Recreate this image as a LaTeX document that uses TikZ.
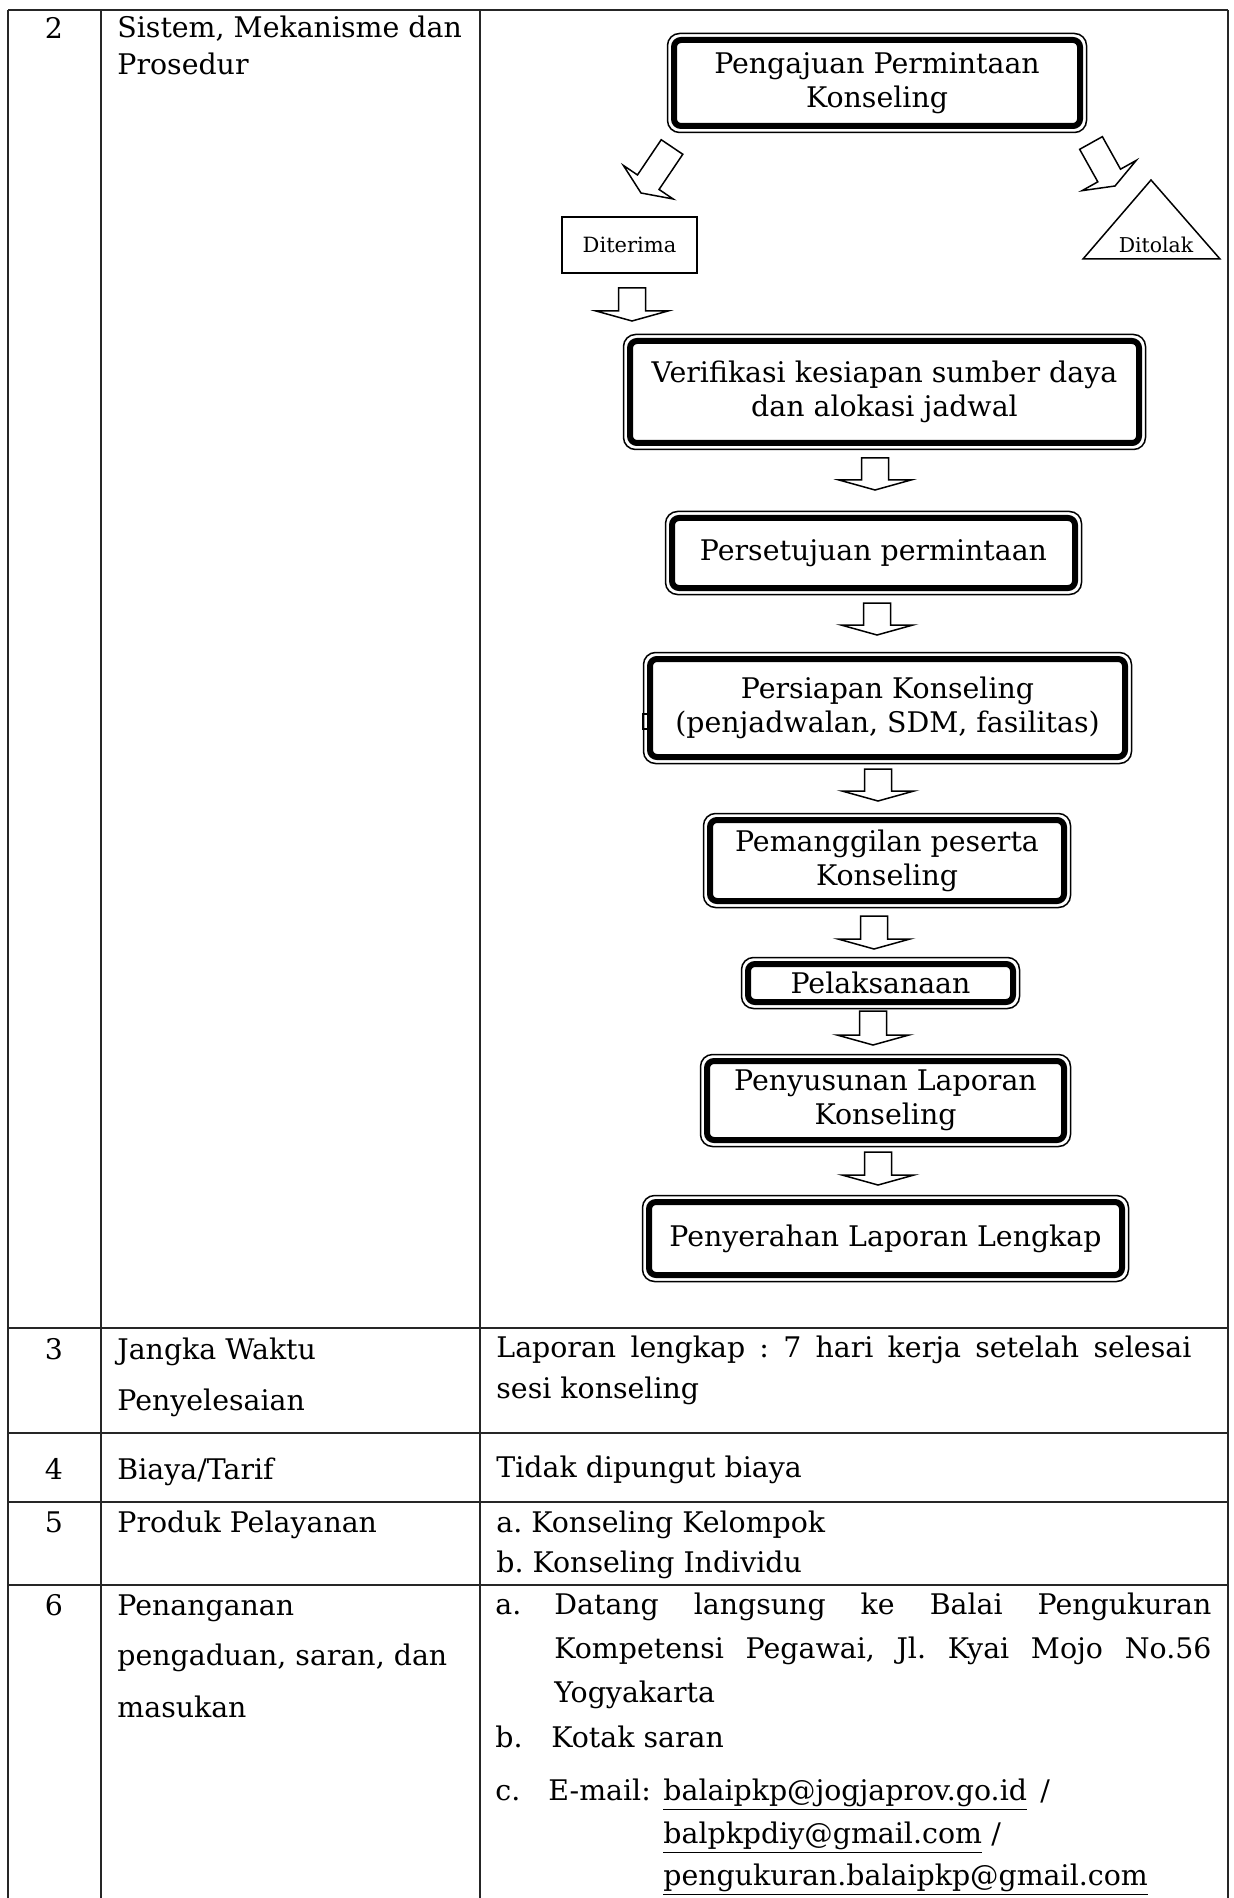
\documentclass[tikz,border=0pt]{standalone}
\usepackage{fontspec}
\setmainfont{DejaVu Serif}
\usetikzlibrary{calc}
\newcommand\fbx[5]{%
  \node[fbox, minimum width=#3pt, minimum height=#4pt] (#1) at (#2) {#5};
  \draw[fout] ([shift={(-3.25pt,3.25pt)}]#1.north west) rectangle ([shift={(3.25pt,-3.25pt)}]#1.south east);}
\newcommand\blockarr[6]{% prefix, tail, tip, half shaft, half head, head length
  \coordinate (#1b) at ($(#3)!#6!(#2)$);
  \draw[arrline] ($(#2)!#4!90:(#3)$) -- ($(#1b)!#4!90:(#3)$) -- ($(#1b)!#5!90:(#3)$) -- (#3)
    -- ($(#1b)!#5!-90:(#3)$) -- ($(#1b)!#4!-90:(#3)$) -- ($(#2)!#4!-90:(#3)$) -- cycle;}
\begin{document}
\frenchspacing
\begin{tikzpicture}[x=0.5pt,y=-0.5pt,
  tline/.style={line width=0.8pt, draw=black!85},
  fbox/.style={draw, line width=3pt, rounded corners=3.5pt, outer sep=0pt, inner sep=0pt, align=center, font=\fontsize{14.2}{17}\selectfont},
  fout/.style={draw, line width=0.75pt, rounded corners=6pt},
  arrline/.style={draw, line width=0.75pt, fill=white, line join=miter},
  tx/.style={anchor=base west, inner sep=0pt, font=\fontsize{14.2}{17}\selectfont},
  num/.style={anchor=base, inner sep=0pt, font=\fontsize{14.2}{17}\selectfont}]
\useasboundingbox[fill=white] (0,0) rectangle (1233,1898);
% table
\draw[tline] (8,10) -- (1228,10);
\draw[tline] (8,10) -- (8,1898);
\draw[tline] (101,10) -- (101,1898);
\draw[tline] (480,10) -- (480,1898);
\draw[tline] (1228,10) -- (1228,1898);
\foreach \yy in {1328,1433,1502,1585} \draw[tline] (8,\yy) -- (1228,\yy);
% row 2
\node[num] (n2) at (54,39) {2};
\node[tx] (l2a) at (117,38) {Sistem, Mekanisme dan};
\node[tx] (l2b) at (117,75) {Prosedur};
% flowchart
\fbx{A}{877,83}{203}{43}{Pengajuan Permintaan\\Konseling}
\fbx{B}{884.5,392}{254.5}{51}{Verifikasi kesiapan sumber daya\\dan alokasi jadwal}
\fbx{C}{873.5,553}{201.5}{35}{Persetujuan permintaan}
\fbx{D}{887.5,708}{237.5}{49}{Persiapan Konseling\\(penjadwalan, SDM, fasilitas)}
\fbx{E}{887,860.5}{177}{40.5}{Pemanggilan peserta\\Konseling}
\fbx{F}{880.5,983}{132.5}{19}{Pelaksanaan}
\fbx{G}{885.5,1100.5}{178.5}{39.5}{Penyusunan Laporan\\Konseling}
\fbx{H}{885.5,1238.5}{236.5}{36.5}{Penyerahan Laporan Lengkap}
\draw[line width=0.7pt] (647,714) -- (643,714) -- (643,729) -- (647,729);
\node[draw, line width=0.75pt, minimum width=67.5pt, minimum height=28pt, inner sep=0pt, font=\fontsize{10.5}{12}\selectfont] (dit) at (629.5,245) {Diterima};
\coordinate (ta) at (1151,180);
\coordinate (tl) at (1083,259);
\coordinate (tr) at (1220,259);
\draw[line width=0.75pt] (ta) -- (tl) -- (tr) -- cycle;
\node[font=\fontsize{10.2}{12}\selectfont, anchor=base, inner sep=0pt] (tol) at (1156,253) {Ditolak};
% arrows
\coordinate (dl1) at (672,147); \coordinate (dl2) at (641,193);
\blockarr{dl}{dl1}{dl2}{6.5pt}{15pt}{6.5pt}
\coordinate (dr1) at (1091,143); \coordinate (dr2) at (1115,186);
\blockarr{dr}{dr1}{dr2}{6.5pt}{15.5pt}{6pt}
\coordinate (v0t) at (632,288); \coordinate (v0p) at (632,321);
\blockarr{v0}{v0t}{v0p}{6.75pt}{18pt}{5pt}
\coordinate (v1t) at (875,458); \coordinate (v1p) at (875,490);
\blockarr{v1}{v1t}{v1p}{6.75pt}{18pt}{5pt}
\coordinate (v2t) at (877,603); \coordinate (v2p) at (877,635);
\blockarr{v2}{v2t}{v2p}{6.75pt}{18pt}{5pt}
\coordinate (v3t) at (878,769); \coordinate (v3p) at (878,801);
\blockarr{v3}{v3t}{v3p}{6.75pt}{18pt}{5pt}
\coordinate (v4t) at (874,916); \coordinate (v4p) at (874,949);
\blockarr{v4}{v4t}{v4p}{6.75pt}{18pt}{5pt}
\coordinate (v5t) at (873,1011); \coordinate (v5p) at (873,1045);
\blockarr{v5}{v5t}{v5p}{6.75pt}{18pt}{5pt}
\coordinate (v6t) at (878,1152); \coordinate (v6p) at (878,1185);
\blockarr{v6}{v6t}{v6p}{6.75pt}{18pt}{5pt}
% rows 3-6
\node[num] (n3) at (54,1359) {3};
\node[tx] (l3a) at (117,1359) {Jangka Waktu};
\node[tx] (l3b) at (117,1410) {Penyelesaian};
\node[tx] (r3a) at (496,1357) {\makebox[347.5pt][s]{Laporan lengkap : 7 hari kerja setelah selesai}};
\node[tx] (r3b) at (496,1398) {sesi konseling};
\node[num] (n4) at (54,1479) {4};
\node[tx] (l4) at (117,1479) {Biaya/Tarif};
\node[tx] (r4) at (496,1477) {Tidak dipungut biaya};
\node[num] (n5) at (54,1532) {5};
\node[tx] (l5) at (117,1532) {Produk Pelayanan};
\node[tx] (r5a) at (496,1532) {a. Konseling Kelompok};
\node[tx] (r5b) at (496,1572) {b. Konseling Individu};
\node[num] (n6) at (54,1615) {6};
\node[tx] (l6a) at (117,1615) {Penanganan};
\node[tx] (l6b) at (117,1665) {pengaduan, saran, dan};
\node[tx] (l6c) at (117,1717) {masukan};
\node[tx] (r6a) at (495,1614) {a.};
\node[tx] (r6a1) at (554,1614) {\makebox[328.5pt][s]{Datang langsung ke Balai Pengukuran}};
\node[tx] (r6a2) at (554,1658) {\makebox[328.5pt][s]{Kompetensi Pegawai, Jl. Kyai Mojo No.56}};
\node[tx] (r6a3) at (554,1702) {Yogyakarta};
\node[tx] (r6b) at (495,1747) {b.};
\node[tx] (r6b1) at (551,1747) {Kotak saran};
\node[tx] (r6c) at (495,1800) {c.};
\node[tx] (r6c1) at (548,1800) {E-mail:};
\node[tx] (em1) at (663,1800) {\underline{balaipkp@jogjaprov.go.id}};
\node[tx] (sl1) at (1040,1800) {/};
\node[tx] (em2) at (663,1843) {\underline{balpkpdiy@gmail.com}};
\node[tx] (sl2) at (991,1843) {/};
\node[tx] (em3) at (663,1885) {\underline{pengukuran.balaipkp@gmail.com}};
\end{tikzpicture}
\end{document}
